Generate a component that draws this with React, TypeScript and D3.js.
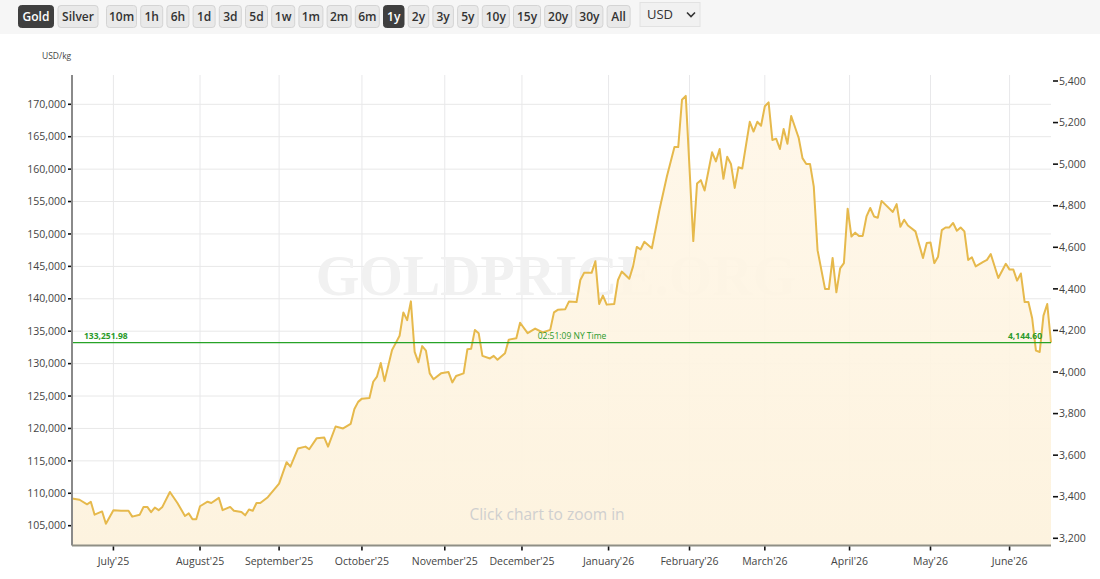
import * as d3 from "d3";

const rangeButtons = ["10m", "1h", "6h", "1d", "3d", "5d", "1w", "1m", "2m", "6m", "1y", "2y", "3y", "5y", "10y", "15y", "20y", "30y", "All"];
const metalButtons = ["Gold", "Silver"];

const monthLabels = ["July'25", "August'25", "September'25", "October'25", "November'25", "December'25", "January'26", "February'26", "March'26", "April'26", "May'26", "June'26"];
// trading session each month starts on, counted from the left edge of the chart
const monthSessions = [11, 34, 55, 77, 99, 119.5, 142.5, 164, 184, 206.5, 228, 249];

const kgTicks = [105000, 110000, 115000, 120000, 125000, 130000, 135000, 140000, 145000, 150000, 155000, 160000, 165000, 170000];
const ozTicks = [3200, 3400, 3600, 3800, 4000, 4200, 4400, 4600, 4800, 5000, 5200, 5400];

const sessions = [
  0, 2, 4, 5, 6, 8, 9, 11, 13, 15, 16, 18, 19, 20, 21, 22, 23, 24, 26, 28, 30, 31, 32, 33, 34, 36, 37, 39, 40, 42,
  43, 45, 46, 47, 48, 49, 50, 52, 55, 57, 58, 60, 62, 63, 65, 67, 68, 70, 72, 74, 75, 76, 77, 79, 80, 81, 82, 83, 85, 86,
  87, 88, 89, 90, 91, 92, 93, 94, 95, 96, 98, 100, 101, 102, 104, 105, 106, 107, 108, 109, 111, 112, 113, 115, 116, 118, 119, 121, 123, 125,
  127, 128, 129, 131, 132, 134, 135, 136, 138, 139, 140, 141, 142, 144, 145, 146, 148, 149, 150, 151, 152, 154, 156, 158, 160, 161, 162, 163, 165, 166,
  167, 168, 170, 171, 172, 173, 174, 175, 176, 177, 178, 180, 181, 182, 183, 184, 185, 186, 187, 188, 189, 190, 191, 193, 194, 195, 196, 197, 198, 200,
  201, 202, 203, 204, 205, 206, 207, 208, 209, 210, 211, 212, 213, 214, 215, 218, 219, 220, 221, 222, 224, 226, 227, 228, 229, 230, 231, 232, 233, 234,
  235, 236, 237, 238, 239, 240, 242, 243, 244, 246, 248, 249, 250, 251, 252, 253, 254, 255, 256, 257, 258, 259, 260,
];

const usdPerKg = [
  109200, 109000, 108300, 108700, 106700, 107200, 105300, 107400, 107300, 107300, 106400, 106700, 107900, 107900, 107100, 107800, 107400, 107900, 110200, 108500, 106500, 106900, 106000, 106000, 108000, 108700, 108500, 109300, 107400, 107900,
  107300, 107100, 106600, 107500, 107300, 108500, 108500, 109400, 111500, 114800, 114100, 116900, 117200, 116800, 118500, 118600, 117200, 120300, 120000, 120700, 123000, 124100, 124600, 124700, 127200, 128000, 130100, 127300, 132100, 133200,
  134300, 137900, 136700, 139600, 131800, 130200, 132700, 132000, 128500, 127600, 128500, 128700, 127100, 128100, 128500, 132200, 132300, 135200, 134700, 131200, 130800, 131200, 130600, 131600, 133700, 133900, 136300, 134700, 135400, 134800,
  135200, 137900, 138300, 138400, 139600, 139500, 142900, 144000, 144000, 145800, 139200, 140500, 139100, 139200, 142900, 144200, 143100, 145000, 148000, 147600, 148800, 147800, 153700, 158900, 163400, 163400, 170700, 171300, 148900, 157800,
  158300, 156700, 162600, 161200, 163100, 158500, 161900, 160800, 157100, 160300, 160100, 167300, 165800, 167300, 166700, 169700, 170300, 164500, 164700, 163100, 166200, 163900, 168200, 164800, 161700, 160800, 160800, 157300, 147500, 141500,
  141500, 146300, 141000, 144700, 145500, 153900, 149600, 150200, 149700, 149700, 152700, 154000, 152700, 152500, 155100, 153400, 154600, 151100, 152200, 151300, 150400, 146300, 148600, 148700, 145500, 146500, 150600, 151000, 151000, 151700,
  150500, 151000, 150400, 146000, 146400, 145000, 145700, 146000, 146900, 143200, 145400, 144500, 144500, 142800, 143900, 139500, 139500, 137000, 132000, 131800, 137400, 139200, 133252,
];

const spotKg = 133251.98;
const spotKgLabel = "133,251.98";
const spotOzLabel = "4,144.60";
const spotTime = "02:51:09 NY Time";

const W = 1100;
const H = 579;
const left = 72;
const right = 1051;
const top = 75;
const bottom = 545.5;
const font = "'Open Sans', 'Noto Sans', sans-serif";

const x = d3.scaleLinear().domain([0, 260]).range([left, right]);
const yKg = d3.scaleLinear().domain([105000, 170000]).range([525.7, 104.3]);
const yOz = d3.scaleLinear().domain([3200, 5400]).range([538.3, 81]);

type Pt = { s: number; v: number };
const points: Pt[] = sessions.map((s, i) => ({ s, v: usdPerKg[i] }));

const linePath = d3.line<Pt>().x((d) => x(d.s)).y((d) => yKg(d.v))(points) ?? "";
const areaPath = d3.area<Pt>().x((d) => x(d.s)).y0(bottom).y1((d) => yKg(d.v))(points) ?? "";

const metalWidths = [35, 40];
const rangeWidths = [30, 22, 22, 22, 22, 22, 23, 24, 24, 24, 20.5, 20.5, 20.5, 20.5, 27, 27, 27, 27, 23];

function Button({ x0, w, label, active }: { x0: number; w: number; label: string; active: boolean }) {
  return (
    <g>
      <rect x={x0} y={5.5} width={w} height={22} rx={3} fill={active ? "#3f3f3f" : "#e9e9e9"} stroke={active ? "#3f3f3f" : "#d4d4d4"} />
      <text x={x0 + w / 2} y={21} textAnchor="middle" fontSize={12} fontWeight={600} fill={active ? "#fff" : "#333"}>
        {label}
      </text>
    </g>
  );
}

function Toolbar() {
  let cursor = 18.5;
  const metals = metalButtons.map((label, i) => {
    const el = <Button key={label} x0={cursor} w={metalWidths[i]} label={label} active={label === "Gold"} />;
    cursor += metalWidths[i] + 4.5;
    return el;
  });
  cursor = 106.5;
  const ranges = rangeButtons.map((label, i) => {
    const el = <Button key={label} x0={cursor} w={rangeWidths[i]} label={label} active={label === "1y"} />;
    cursor += rangeWidths[i] + 4.2;
    return el;
  });
  return (
    <g fontFamily={font}>
      <rect x={0} y={0} width={W} height={34} fill="#f6f6f6" />
      {metals}
      {ranges}
      <rect x={640} y={2.5} width={60} height={24} fill="#f1f1f1" stroke="#e2e2e2" />
      <text x={647} y={19} fontSize={13} fill="#333">USD</text>
      <path d="M687 12.5l4 4 4-4" fill="none" stroke="#333" strokeWidth={1.6} />
    </g>
  );
}

export default function App() {
  return (
    <svg width={W} height={H} viewBox={`0 0 ${W} ${H}`} style={{ position: "absolute", left: 0, top: 0, display: "block" }}>
      <defs>
        <linearGradient id="goldFill" x1="0" y1="0" x2="0" y2="1">
          <stop offset="0%" stopColor="#fff6e6" stopOpacity={0.85} />
          <stop offset="100%" stopColor="#fdf3df" />
        </linearGradient>
      </defs>
      <rect width={W} height={H} fill="#fff" />
      <Toolbar />

      {kgTicks.map((t) => (
        <line key={t} x1={left} x2={right} y1={yKg(t)} y2={yKg(t)} stroke="#e8e8e8" />
      ))}
      {monthSessions.map((s) => (
        <line key={s} x1={x(s)} x2={x(s)} y1={top} y2={bottom} stroke="#e8e8ea" />
      ))}

      <text x={556} y={295} textAnchor="middle" fontFamily="'Liberation Serif', serif" fontSize={56} fontWeight={700} fill="#f1f1f1">
        GOLDPRICE.ORG
      </text>

      <path d={areaPath} fill="url(#goldFill)" />
      <path d={linePath} fill="none" stroke="#e6b94c" strokeWidth={2} strokeLinejoin="round" />

      <line x1={left} x2={right} y1={yKg(spotKg)} y2={yKg(spotKg)} stroke="#27a327" strokeWidth={1.3} />

      <g fontFamily={font} fontSize={8.5} fontWeight={700} fill="#2a9a2a">
        <text x={84} y={339}>{spotKgLabel}</text>
        <text x={572} y={339} textAnchor="middle" fontWeight={400}>{spotTime}</text>
        <text x={1042} y={339} textAnchor="end">{spotOzLabel}</text>
      </g>

      <text x={547} y={520} textAnchor="middle" fontFamily={font} fontSize={15.5} fill="#cfcfcf">
        Click chart to zoom in
      </text>

      <line x1={left} x2={left} y1={top} y2={bottom} stroke="#8a8a8a" strokeWidth={2} />
      <line x1={left} x2={right} y1={bottom} y2={bottom} stroke="#8f8f85" strokeWidth={2} />

      <g fontFamily={font} fontSize={10.5} fill="#444">
        <text x={42} y={59} fontSize={8.5}>USD/kg</text>
        {kgTicks.map((t) => (
          <g key={t}>
            <line x1={68} x2={71} y1={yKg(t)} y2={yKg(t)} stroke="#111" strokeWidth={1.6} />
            <text x={66} y={yKg(t) + 3.7} textAnchor="end">{d3.format(",")(t)}</text>
          </g>
        ))}
        {ozTicks.map((t) => (
          <g key={t}>
            <line x1={1053} x2={1058} y1={yOz(t)} y2={yOz(t)} stroke="#111" strokeWidth={1.6} />
            <text x={1059} y={yOz(t) + 3.7}>{d3.format(",")(t)}</text>
          </g>
        ))}
        {monthSessions.map((s, i) => (
          <g key={s}>
            <line x1={x(s)} x2={x(s)} y1={bottom + 1} y2={bottom + 5} stroke="#111" strokeWidth={1.6} />
            <text x={x(s)} y={565} textAnchor="middle">{monthLabels[i]}</text>
          </g>
        ))}
      </g>
    </svg>
  );
}
